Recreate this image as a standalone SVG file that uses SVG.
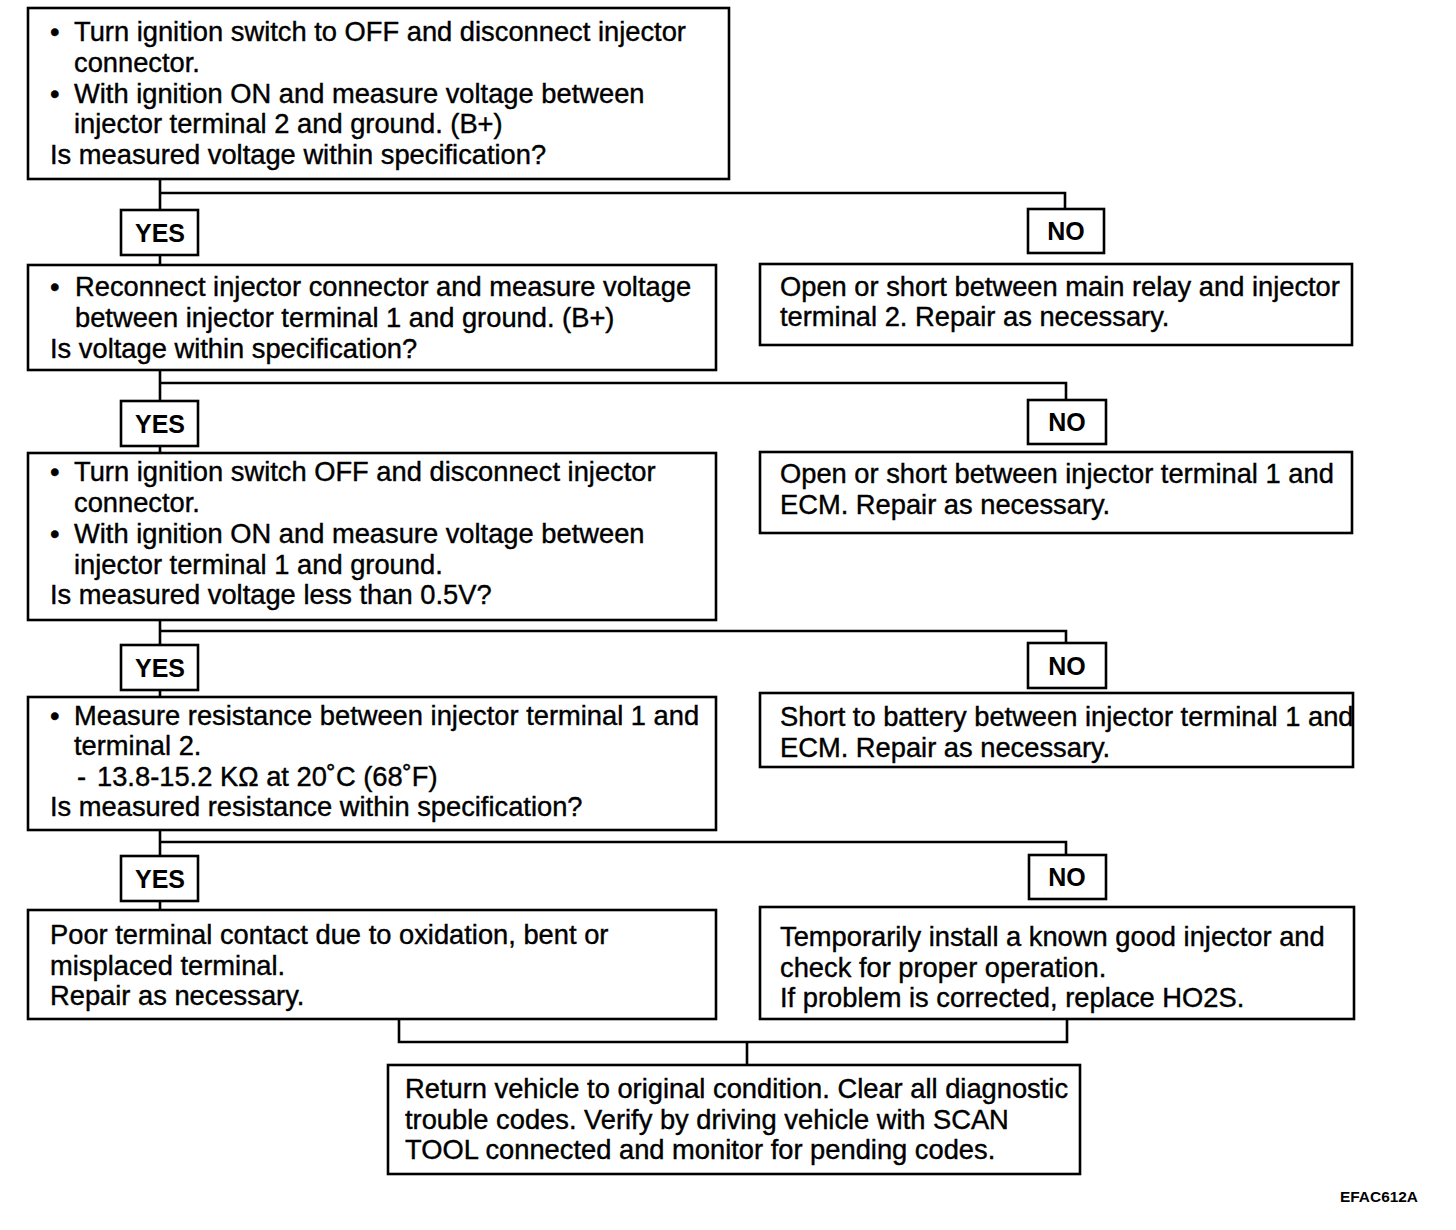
<svg xmlns="http://www.w3.org/2000/svg" width="1456" height="1230" viewBox="0 0 1456 1230">
<style>
.box{fill:#fff;stroke:#000;stroke-width:2.6}
.lbl{fill:#fff;stroke:#000;stroke-width:2.6}
.c{fill:none;stroke:#000;stroke-width:2.6}
text{font-family:"Liberation Sans",Arial,sans-serif;fill:#000}
.t{font-size:27.3px;stroke:#000;stroke-width:0.4}
.yn{font-size:25px;font-weight:bold;text-anchor:middle}
.code{font-size:14px;font-weight:bold}
</style>
<rect width="1456" height="1230" fill="#fff"/>
<g id="connectors">
<path class="c" d="M160 179V265M160 193H1065V210"/>
<path class="c" d="M160 370V453M160 383H1066V401"/>
<path class="c" d="M160 620V697M160 631H1066V643"/>
<path class="c" d="M160 830V910M160 842H1066V855"/>
<path class="c" d="M399 1019V1042H1067V1019M747 1042V1065"/>
</g>
<g id="n1">
<rect class="box" x="28" y="8" width="701" height="171"/>
<text class="t"><tspan x="50" y="41">•</tspan><tspan x="74" y="41">Turn ignition switch to OFF and disconnect injector</tspan>
<tspan x="74" y="72">connector.</tspan>
<tspan x="50" y="103">•</tspan><tspan x="74" y="103">With ignition ON and measure voltage between</tspan>
<tspan x="74" y="133">injector terminal 2 and ground. (B+)</tspan>
<tspan x="50" y="164">Is measured voltage within specification?</tspan></text>
</g>
<g id="yes1"><rect class="lbl" x="121" y="210" width="77" height="45"/><text class="yn" x="160" y="242">YES</text></g>
<g id="no1"><rect class="lbl" x="1028" y="209" width="76" height="44"/><text class="yn" x="1066" y="240">NO</text></g>
<g id="n2">
<rect class="box" x="28" y="265" width="688" height="105"/>
<text class="t"><tspan x="50" y="296">•</tspan><tspan x="75" y="296">Reconnect injector connector and measure voltage</tspan>
<tspan x="75" y="327">between injector terminal 1 and ground. (B+)</tspan>
<tspan x="50" y="358">Is voltage within specification?</tspan></text>
</g>
<g id="n2no">
<rect class="box" x="760" y="264" width="592" height="81"/>
<text class="t"><tspan x="780" y="296">Open or short between main relay and injector</tspan>
<tspan x="780" y="326">terminal 2. Repair as necessary.</tspan></text>
</g>
<g id="yes2"><rect class="lbl" x="121" y="401" width="77" height="45"/><text class="yn" x="160" y="433">YES</text></g>
<g id="no2"><rect class="lbl" x="1028" y="400" width="78" height="44"/><text class="yn" x="1067" y="431">NO</text></g>
<g id="n3">
<rect class="box" x="28" y="453" width="688" height="167"/>
<text class="t"><tspan x="50" y="481">•</tspan><tspan x="74" y="481">Turn ignition switch OFF and disconnect injector</tspan>
<tspan x="74" y="512">connector.</tspan>
<tspan x="50" y="543">•</tspan><tspan x="74" y="543">With ignition ON and measure voltage between</tspan>
<tspan x="74" y="574">injector terminal 1 and ground.</tspan>
<tspan x="50" y="604">Is measured voltage less than 0.5V?</tspan></text>
</g>
<g id="n3no">
<rect class="box" x="760" y="452" width="592" height="81"/>
<text class="t"><tspan x="780" y="483">Open or short between injector terminal 1 and</tspan>
<tspan x="780" y="514">ECM. Repair as necessary.</tspan></text>
</g>
<g id="yes3"><rect class="lbl" x="121" y="645" width="77" height="45"/><text class="yn" x="160" y="677">YES</text></g>
<g id="no3"><rect class="lbl" x="1028" y="643" width="78" height="45"/><text class="yn" x="1067" y="675">NO</text></g>
<g id="n4">
<rect class="box" x="28" y="697" width="688" height="133"/>
<text class="t"><tspan x="50" y="725">•</tspan><tspan x="74" y="725">Measure resistance between injector terminal 1 and</tspan>
<tspan x="74" y="755">terminal 2.</tspan>
<tspan x="77" y="786">-</tspan><tspan x="97" y="786">13.8-15.2 KΩ at 20˚C (68˚F)</tspan>
<tspan x="50" y="816">Is measured resistance within specification?</tspan></text>
</g>
<g id="n4no">
<rect class="box" x="760" y="693" width="593" height="74"/>
<text class="t"><tspan x="780" y="726">Short to battery between injector terminal 1 and</tspan>
<tspan x="780" y="757">ECM. Repair as necessary.</tspan></text>
</g>
<g id="yes4"><rect class="lbl" x="121" y="856" width="77" height="45"/><text class="yn" x="160" y="888">YES</text></g>
<g id="no4"><rect class="lbl" x="1029" y="855" width="77" height="44"/><text class="yn" x="1067" y="886">NO</text></g>
<g id="n5">
<rect class="box" x="28" y="910" width="688" height="109"/>
<text class="t"><tspan x="50" y="944">Poor terminal contact due to oxidation, bent or</tspan>
<tspan x="50" y="975">misplaced terminal.</tspan>
<tspan x="50" y="1005">Repair as necessary.</tspan></text>
</g>
<g id="n5no">
<rect class="box" x="760" y="907" width="594" height="112"/>
<text class="t"><tspan x="780" y="946">Temporarily install a known good injector and</tspan>
<tspan x="780" y="977">check for proper operation.</tspan>
<tspan x="780" y="1007">If problem is corrected, replace HO2S.</tspan></text>
</g>
<g id="n6">
<rect class="box" x="388" y="1065" width="692" height="109"/>
<text class="t"><tspan x="405" y="1098">Return vehicle to original condition. Clear all diagnostic</tspan>
<tspan x="405" y="1129">trouble codes. Verify by driving vehicle with SCAN</tspan>
<tspan x="405" y="1159">TOOL connected and monitor for pending codes.</tspan></text>
</g>
<text class="code" x="1340" y="1202" textLength="78" lengthAdjust="spacingAndGlyphs">EFAC612A</text>
</svg>
